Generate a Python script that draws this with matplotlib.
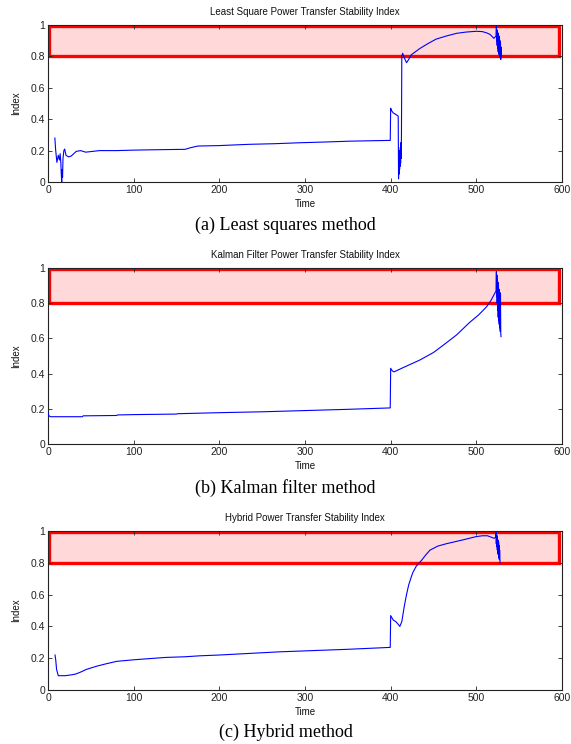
import matplotlib
matplotlib.use('Agg')
import matplotlib.pyplot as plt
from matplotlib.patches import Rectangle

# ---- data ----
# (a) least squares
t_ls = [8, 9, 10.4, 12, 13.4, 14.2, 15, 15.5, 16, 16.5, 17, 17.5, 18.5, 19.5, 21, 24, 27, 30, 33,
        38, 44, 52, 60, 80, 100, 120, 145, 160, 166, 175, 200, 235, 265, 294, 325, 352, 380, 399.5,
        400, 401, 403, 406, 408.8, 409.2, 409.5, 409.8, 410.1, 410.4, 410.7, 411, 411.3, 411.6,
        411.9, 412.2, 412.6, 413, 414, 416, 418.5, 421, 424, 429, 434, 443, 453, 465, 477, 488,
        500, 507, 512, 516, 520.5, 523,
        523.4, 523.7, 524.0, 524.3, 524.6, 524.9, 525.2, 525.5, 525.8, 526.1, 526.4, 526.7,
        527.0, 527.3, 527.6, 527.9, 528.2, 528.5, 528.8, 529.1]
v_ls = [0.28, 0.2, 0.125, 0.17, 0.14, 0.18, 0.12, 0.05, 0.0, 0.08, 0.03, 0.15, 0.2, 0.21, 0.17,
        0.16, 0.165, 0.18, 0.195, 0.2, 0.19, 0.195, 0.2, 0.2, 0.203, 0.205, 0.207, 0.208, 0.218,
        0.229, 0.232, 0.24, 0.244, 0.25, 0.255, 0.26, 0.263, 0.265,
        0.47, 0.455, 0.44, 0.43, 0.42, 0.02, 0.2, 0.05, 0.18, 0.08, 0.2, 0.1, 0.22, 0.12, 0.25,
        0.15, 0.3, 0.8, 0.82, 0.79, 0.76, 0.78, 0.81, 0.83, 0.85, 0.88, 0.91, 0.93, 0.947, 0.955,
        0.96, 0.958, 0.95, 0.94, 0.915, 0.93,
        0.99, 0.9, 0.97, 0.87, 0.96, 0.85, 0.95, 0.83, 0.94, 0.82, 0.93, 0.81, 0.92, 0.80,
        0.9, 0.79, 0.88, 0.78, 0.86, 0.8]

# (b) kalman filter
t_kf = [0, 1, 3, 10, 40, 41, 80, 81, 100, 150, 151, 200, 250, 300, 350, 399.5, 400, 402, 404,
        415, 434, 450, 461, 477, 492, 503, 512, 517, 521.5, 523,
        523.4, 523.7, 524.0, 524.3, 524.6, 524.9, 525.2, 525.5, 525.8, 526.1, 526.4, 526.7,
        527.0, 527.3, 527.6, 527.9, 528.2, 528.5, 528.8]
v_kf = [0.178, 0.16, 0.155, 0.155, 0.155, 0.16, 0.162, 0.165, 0.167, 0.17, 0.172, 0.178, 0.183,
        0.19, 0.197, 0.205, 0.43, 0.415, 0.41, 0.435, 0.477, 0.52, 0.56, 0.62, 0.69, 0.735, 0.78,
        0.815, 0.856, 0.87,
        0.98, 0.84, 0.96, 0.8, 0.94, 0.76, 0.92, 0.72, 0.9, 0.7, 0.88, 0.68, 0.87, 0.66,
        0.86, 0.64, 0.85, 0.63, 0.61]

# (c) hybrid
t_hy = [8.2, 9, 10, 12, 15, 20, 27, 32, 37, 45, 57, 68, 80, 100, 120, 138, 160, 177, 200, 235,
        270, 300, 350, 399.5, 400, 403, 406, 408.5, 410.7, 413, 416, 418.5, 421, 424, 426, 430,
        436, 441, 446, 455, 465, 473, 485, 500, 507, 513, 518, 520.6, 522.5,
        523.0, 523.3, 523.6, 523.9, 524.2, 524.5, 524.8, 525.1, 525.4, 525.7, 526.0, 526.3,
        526.6, 526.9, 527.2, 527.7]
v_hy = [0.22, 0.19, 0.13, 0.09, 0.09, 0.09, 0.095, 0.1, 0.11, 0.13, 0.15, 0.165, 0.18, 0.19,
        0.198, 0.205, 0.209, 0.215, 0.22, 0.23, 0.24, 0.246, 0.256, 0.268, 0.468, 0.44, 0.43,
        0.415, 0.40, 0.43, 0.53, 0.6, 0.66, 0.71, 0.74, 0.78, 0.815, 0.85, 0.88, 0.905, 0.92,
        0.93, 0.945, 0.965, 0.97, 0.97, 0.96, 0.954, 0.96,
        0.995, 0.92, 0.98, 0.9, 0.97, 0.88, 0.95, 0.86, 0.94, 0.85, 0.93, 0.83, 0.91, 0.82,
        0.88, 0.795]

series = [(t_ls, v_ls), (t_kf, v_kf), (t_hy, v_hy)]
titles = ['Least Square Power Transfer Stability Index',
          'Kalman Filter Power Transfer Stability Index',
          'Hybrid Power Transfer Stability Index']
captions = ['(a) Least squares method', '(b) Kalman filter method', '(c) Hybrid method']

# stability band drawn on every panel
band_x = (1, 597)
band_y = (0.8, 0.995)

W, H = 571, 744
fig = plt.figure(figsize=(W / 100, H / 100), dpi=100)
plt.rcParams['font.family'] = ['Liberation Sans', 'DejaVu Sans']

# axes boxes in pixels: (top, bottom)
boxes = [(25, 182), (268, 444), (531, 690)]
cap_y = [225, 488, 732]

for i, ((t, v), (top, bot)) in enumerate(zip(series, boxes)):
    ax = fig.add_axes([48 / W, 1 - bot / H, 514 / W, (bot - top) / H])
    ax.add_patch(Rectangle((band_x[0], band_y[0]), band_x[1] - band_x[0], band_y[1] - band_y[0],
                           facecolor='#ffd9d9', edgecolor='#ff0000', linewidth=2.4, zorder=1))
    ax.plot(t, v, color='#0000ff', linewidth=0.8, zorder=3)
    ax.set_xlim(0, 600)
    ax.set_ylim(0, 1)
    ax.set_xticks([0, 100, 200, 300, 400, 500, 600])
    ax.set_yticks([0, 0.2, 0.4, 0.6, 0.8, 1])
    ax.set_yticklabels(['0', '0.2', '0.4', '0.6', '0.8', '1'])
    ax.tick_params(direction='in', top=True, right=True, length=3, width=0.6,
                   labelsize=7.5, colors='#222222', pad=2)
    for s in ax.spines.values():
        s.set_linewidth(0.8)
        s.set_color('#222222')
    ax.set_title(titles[i], fontsize=7, pad=7, color='#111111')
    ax.set_xlabel('Time', fontsize=7, labelpad=3, color='#111111')
    ax.set_ylabel('Index', fontsize=7, labelpad=7, color='#111111')
    fig.text(0.5, 1 - cap_y[i] / H, captions[i], ha='center', va='center',
             fontsize=13, family='Liberation Serif')

fig.savefig('out.png', dpi=100)
